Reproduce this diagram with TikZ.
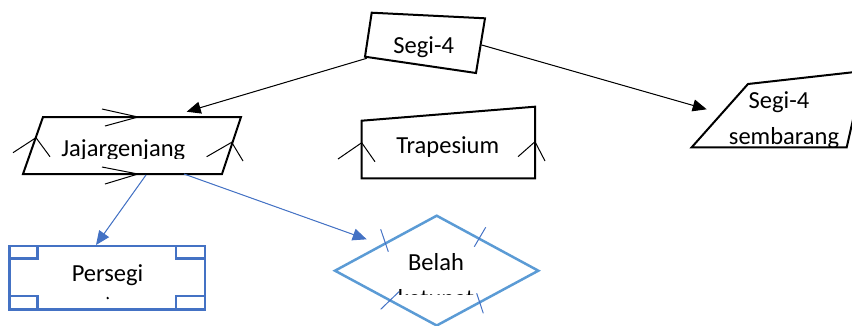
\documentclass[tikz,border=0pt]{standalone}
\usepackage{fontspec}
\setmainfont{Carlito}
\usetikzlibrary{arrows.meta}
\definecolor{shapeblue}{HTML}{4472C4}
\definecolor{lightblue}{HTML}{5B9BD5}
\begin{document}
\begin{tikzpicture}[x=1pt,y=-1pt,
  outline/.style={draw=black,line width=2pt,line join=miter},
  chev/.style={draw=black,line width=1pt},
  arr/.style={-{Triangle[length=14pt,width=12pt]},line width=1pt},
  bluearr/.style={arr,draw=shapeblue,fill=shapeblue},
  bluebox/.style={draw=shapeblue,line width=2.5pt},
  rhombline/.style={draw=lightblue,line width=2.5pt,line join=miter},
  tick/.style={draw=shapeblue,line width=1pt},
  lbl/.style={font=\fontsize{24.5}{36}\selectfont,inner sep=0pt,anchor=base}
]
\useasboundingbox (0,0) rectangle (852,325);
\clip (0,0) rectangle (852,325);

% anchor points for the connectors
\coordinate (segiW) at (366.7,58.3);
\coordinate (segiE) at (481.7,45);
\coordinate (jajarN) at (186.7,111.7);
\coordinate (jajarS1) at (146,175);
\coordinate (jajarS2) at (184,174);
\coordinate (sembW) at (706.7,109.3);
\coordinate (persegiN) at (96,245);
\coordinate (belahNW) at (366.7,239.3);

% Segi-4 (root quadrilateral)
\draw[outline] (371.7,12.7) -- (485,18.3) -- (476,73) -- (365,56.7) -- cycle;
\node[lbl] (segi) at (423.7,53.3) {Segi-4};

% Jajargenjang (parallelogram with parallel marks)
\draw[outline] (43,117) -- (241,117) -- (222,174) -- (23,174) -- cycle;
\draw[chev] (102,109) -- (138,117) -- (105,126);
\draw[chev] (102,167) -- (138,174) -- (105,184);
\draw[chev] (13,152.7) -- (36,137.7) -- (50,156.7);
\draw[chev] (206.7,156.7) -- (231.7,142.3) -- (243,161);
\begin{scope}
  \clip (0,0) rectangle (852,158.7);
  \node[lbl] (jajar) at (123.3,156) {Jajargenjang};
\end{scope}

% Trapesium
\draw[outline] (361.7,120.7) -- (535,106.7) -- (535,178.3) -- (361.7,178.3) -- cycle;
\draw[chev] (338,159) -- (361.7,142.7) -- (375,161.7);
\draw[chev] (518,156.7) -- (535,141.7) -- (545,161);
\node[lbl] (trap) at (447.7,153.3) {Trapesium};

% Segi-4 sembarang
\draw[outline] (691.7,147.3) -- (748,84) -- (864,71) -- (846.7,147.3) -- cycle;
\node[lbl] (sembA) at (779,108.3) {Segi-4};
\begin{scope}
  \clip (0,0) rectangle (852,146);
  \node[lbl] (sembB) at (784,144.3) {sembarang};
\end{scope}

% Persegi
\draw[bluebox] (9.3,246) rectangle (205,309.3);
\draw[bluebox] (9.3,246) rectangle (37.7,258.3);
\draw[bluebox] (176,246) rectangle (205,258.3);
\draw[bluebox] (9.3,296) rectangle (37.7,309.3);
\draw[bluebox] (176,296) rectangle (205,309.3);
\node[lbl] (persegi) at (107.5,281.7) {Persegi};
\fill (107.7,298) circle (1.3pt);

% Belah ketupat (rhombus with equal-side marks)
\draw[rhombline] (335,270.7) -- (436.7,215.7) -- (538.3,270.7) -- (436.7,325.5) -- cycle;
\draw[tick] (380.7,229.3) -- (388.3,251.7);
\draw[tick] (474.3,246.7) -- (485.7,227.3);
\draw[tick] (380.7,309.3) -- (399,291.7);
\draw[tick] (476.7,293.3) -- (483.3,313.3);
\node[lbl] (belah) at (436,270.7) {Belah};
\begin{scope}
  \clip (0,0) rectangle (852,294.3);
  \node[lbl] (ketupat) at (436,306) {ketupat};
\end{scope}

% connectors
\draw[arr,fill=black] (segiW) -- (jajarN);
\draw[arr,fill=black] (segiE) -- (sembW);
\draw[bluearr] (jajarS1) -- (persegiN);
\draw[bluearr] (jajarS2) -- (belahNW);
\end{tikzpicture}
\end{document}
